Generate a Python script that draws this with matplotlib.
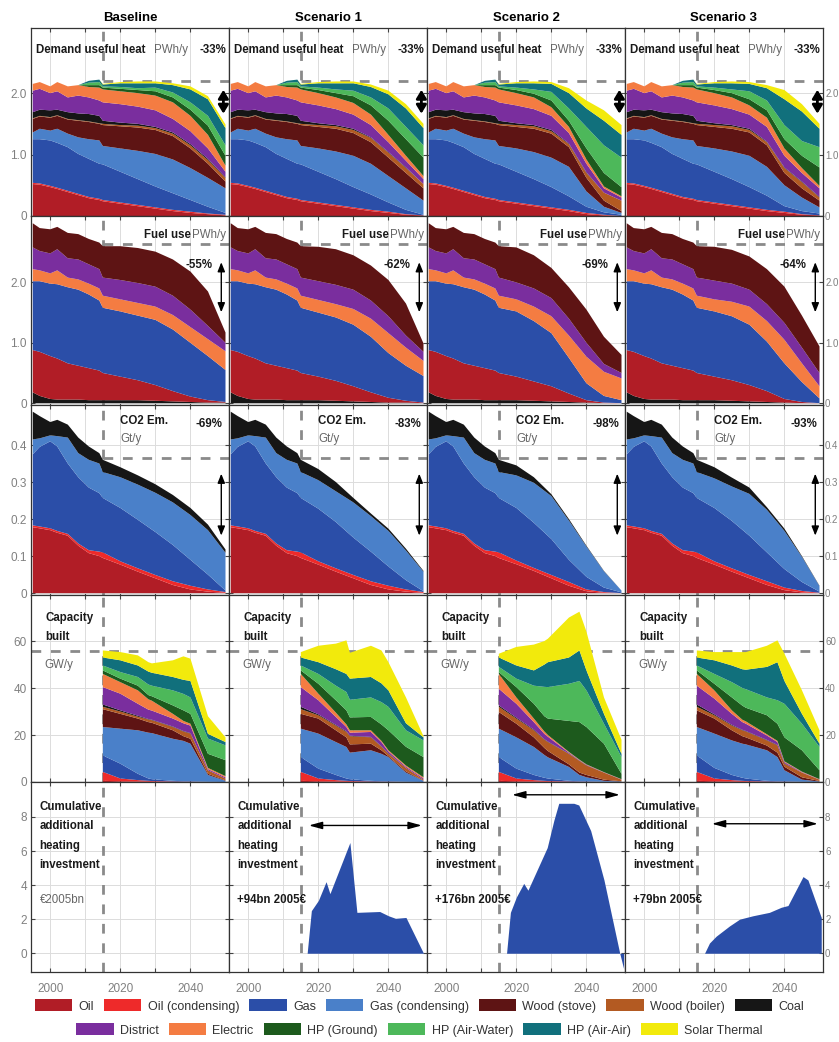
import numpy as np
import matplotlib
matplotlib.use('Agg')
from matplotlib import pyplot as plt
from matplotlib.patches import Patch

plt.rcParams['font.family'] = ['Liberation Sans', 'DejaVu Sans']

scenarios = ['Baseline', 'Scenario 1', 'Scenario 2', 'Scenario 3']

techs = ['Oil', 'Oil (condensing)', 'Gas', 'Gas (condensing)', 'Wood (stove)',
	'Wood (boiler)', 'Coal', 'District', 'Electric', 'HP (Ground)',
	'HP (Air-Water)', 'HP (Air-Air)', 'Solar Thermal']
colors = ['#b11d26', '#ee2a2a', '#2b4ea8', '#4a80c9', '#5e1414', '#b35a22',
	'#161616', '#7a2e9e', '#f47c42', '#1d5a1d', '#4db85a', '#11707c', '#f2ea0c']
col = dict(zip(techs, colors))

hist_years = [1995, 1997, 2000, 2002, 2005, 2008, 2011, 2014]
fut_years = [2015, 2020, 2025, 2030, 2035, 2040, 2045, 2050]
cap_years = [2015, 2020, 2025, 2028, 2029, 2035, 2038, 2040, 2045, 2050]

# demand useful heat, PWh/y -- cumulative tops, one row per tech (techs order)
demand_hist = [
	[0.52, 0.51, 0.47, 0.44, 0.39, 0.34, 0.29, 0.26],
	[0.54, 0.53, 0.49, 0.46, 0.41, 0.36, 0.31, 0.28],
	[1.25, 1.25, 1.23, 1.19, 1.12, 1.01, 0.93, 0.85],
	[1.36, 1.42, 1.39, 1.42, 1.34, 1.28, 1.25, 1.23],
	[1.58, 1.62, 1.60, 1.63, 1.57, 1.55, 1.53, 1.50],
	[1.59, 1.63, 1.61, 1.64, 1.58, 1.56, 1.54, 1.51],
	[1.69, 1.73, 1.72, 1.73, 1.69, 1.67, 1.66, 1.63],
	[2.04, 2.07, 2.00, 2.03, 1.93, 1.96, 1.93, 1.88],
	[2.15, 2.18, 2.11, 2.18, 2.11, 2.13, 2.10, 2.09],
	[2.15, 2.18, 2.11, 2.18, 2.11, 2.13, 2.13, 2.13],
	[2.15, 2.18, 2.11, 2.18, 2.11, 2.13, 2.17, 2.18],
	[2.15, 2.18, 2.11, 2.18, 2.11, 2.13, 2.20, 2.22],
	[2.15, 2.18, 2.11, 2.18, 2.11, 2.13, 2.20, 2.22],
]
demand_base = [
	[0.24, 0.20, 0.16, 0.12, 0.08, 0.05, 0.03, 0.01],
	[0.26, 0.22, 0.18, 0.14, 0.10, 0.07, 0.04, 0.02],
	[0.84, 0.72, 0.60, 0.48, 0.37, 0.26, 0.15, 0.05],
	[1.14, 1.10, 1.06, 1.01, 0.92, 0.78, 0.62, 0.45],
	[1.48, 1.46, 1.44, 1.40, 1.30, 1.10, 0.85, 0.56],
	[1.50, 1.48, 1.47, 1.43, 1.34, 1.15, 0.91, 0.62],
	[1.55, 1.52, 1.50, 1.45, 1.36, 1.17, 0.93, 0.63],
	[1.85, 1.82, 1.78, 1.72, 1.58, 1.38, 1.10, 0.72],
	[2.06, 2.03, 2.00, 1.96, 1.85, 1.63, 1.32, 0.82],
	[2.09, 2.07, 2.05, 2.03, 1.93, 1.73, 1.47, 0.98],
	[2.11, 2.10, 2.08, 2.09, 2.01, 1.85, 1.63, 1.15],
	[2.14, 2.16, 2.16, 2.16, 2.13, 2.06, 1.90, 1.43],
	[2.15, 2.18, 2.19, 2.19, 2.16, 2.11, 1.95, 1.49],
]
demand_s1 = [
	[0.24, 0.20, 0.16, 0.12, 0.08, 0.05, 0.02, 0.01],
	[0.26, 0.22, 0.18, 0.14, 0.10, 0.07, 0.03, 0.01],
	[0.84, 0.72, 0.60, 0.47, 0.35, 0.22, 0.10, 0.02],
	[1.14, 1.10, 1.05, 0.98, 0.85, 0.65, 0.45, 0.25],
	[1.48, 1.45, 1.42, 1.35, 1.20, 0.95, 0.70, 0.45],
	[1.50, 1.48, 1.46, 1.40, 1.27, 1.03, 0.78, 0.52],
	[1.55, 1.51, 1.48, 1.42, 1.28, 1.04, 0.79, 0.52],
	[1.85, 1.80, 1.74, 1.65, 1.48, 1.20, 0.90, 0.60],
	[2.06, 2.00, 1.93, 1.84, 1.65, 1.32, 0.98, 0.65],
	[2.09, 2.05, 2.00, 1.95, 1.80, 1.55, 1.25, 0.95],
	[2.11, 2.09, 2.06, 2.04, 1.93, 1.75, 1.45, 1.15],
	[2.14, 2.16, 2.16, 2.16, 2.10, 1.98, 1.75, 1.43],
	[2.15, 2.18, 2.19, 2.19, 2.14, 2.04, 1.82, 1.50],
]
demand_s2 = [
	[0.24, 0.20, 0.16, 0.12, 0.08, 0.03, 0.01, 0.00],
	[0.26, 0.22, 0.18, 0.14, 0.10, 0.05, 0.02, 0.00],
	[0.84, 0.72, 0.60, 0.47, 0.32, 0.15, 0.06, 0.02],
	[1.14, 1.10, 1.04, 0.95, 0.80, 0.40, 0.15, 0.05],
	[1.48, 1.45, 1.42, 1.34, 1.12, 0.62, 0.25, 0.08],
	[1.50, 1.48, 1.46, 1.38, 1.17, 0.70, 0.38, 0.25],
	[1.55, 1.51, 1.48, 1.40, 1.18, 0.71, 0.38, 0.25],
	[1.85, 1.80, 1.74, 1.63, 1.35, 0.85, 0.45, 0.30],
	[2.06, 2.00, 1.93, 1.77, 1.45, 0.92, 0.48, 0.32],
	[2.09, 2.05, 1.99, 1.88, 1.55, 1.10, 0.70, 0.47],
	[2.11, 2.09, 2.06, 2.02, 1.75, 1.45, 1.15, 0.95],
	[2.14, 2.16, 2.16, 2.15, 2.00, 1.75, 1.55, 1.32],
	[2.15, 2.18, 2.19, 2.18, 2.08, 1.88, 1.72, 1.48],
]
demand_s3 = [
	[0.24, 0.20, 0.16, 0.12, 0.08, 0.05, 0.02, 0.01],
	[0.26, 0.22, 0.18, 0.14, 0.10, 0.07, 0.03, 0.01],
	[0.84, 0.72, 0.60, 0.47, 0.33, 0.16, 0.08, 0.04],
	[1.14, 1.10, 1.05, 0.98, 0.80, 0.50, 0.30, 0.14],
	[1.48, 1.45, 1.42, 1.36, 1.15, 0.70, 0.45, 0.25],
	[1.50, 1.48, 1.46, 1.40, 1.20, 0.78, 0.55, 0.30],
	[1.55, 1.51, 1.48, 1.42, 1.21, 0.79, 0.56, 0.31],
	[1.85, 1.80, 1.74, 1.65, 1.45, 0.98, 0.70, 0.45],
	[2.06, 2.00, 1.93, 1.80, 1.60, 1.10, 0.78, 0.49],
	[2.09, 2.05, 2.00, 1.90, 1.72, 1.25, 0.98, 0.79],
	[2.11, 2.09, 2.06, 2.03, 1.88, 1.48, 1.22, 1.12],
	[2.14, 2.16, 2.16, 2.15, 2.08, 1.90, 1.70, 1.42],
	[2.15, 2.18, 2.19, 2.18, 2.13, 2.05, 1.82, 1.50],
]

# fuel use, PWh/y -- tops
fuel_techs = ['Coal', 'Oil', 'Gas', 'Electric', 'District', 'Wood (stove)']
fuel_hist = [
	[0.18, 0.12, 0.07, 0.06, 0.06, 0.06, 0.05, 0.05],
	[0.88, 0.85, 0.78, 0.74, 0.66, 0.62, 0.58, 0.54],
	[2.02, 2.02, 1.98, 1.97, 1.92, 1.88, 1.80, 1.70],
	[2.22, 2.20, 2.15, 2.20, 2.08, 2.05, 1.98, 1.90],
	[2.58, 2.52, 2.48, 2.55, 2.40, 2.38, 2.30, 2.22],
	[2.98, 2.90, 2.88, 2.92, 2.82, 2.80, 2.72, 2.66],
]
fuel_base = [
	[0.05, 0.05, 0.05, 0.04, 0.03, 0.02, 0.01, 0.01],
	[0.50, 0.44, 0.38, 0.30, 0.20, 0.11, 0.05, 0.02],
	[1.58, 1.52, 1.45, 1.38, 1.22, 1.00, 0.78, 0.55],
	[1.78, 1.72, 1.66, 1.60, 1.46, 1.26, 1.06, 0.86],
	[2.08, 2.04, 1.99, 1.93, 1.78, 1.55, 1.28, 1.00],
	[2.60, 2.60, 2.57, 2.51, 2.38, 2.18, 1.85, 1.17],
]
fuel_s1 = [
	[0.05, 0.05, 0.04, 0.03, 0.02, 0.01, 0.01, 0.00],
	[0.50, 0.44, 0.37, 0.28, 0.18, 0.09, 0.04, 0.01],
	[1.58, 1.50, 1.42, 1.30, 1.10, 0.83, 0.62, 0.45],
	[1.78, 1.71, 1.64, 1.56, 1.40, 1.16, 0.92, 0.70],
	[2.08, 2.02, 1.96, 1.88, 1.70, 1.44, 1.12, 0.85],
	[2.60, 2.59, 2.55, 2.45, 2.28, 2.04, 1.65, 0.99],
]
fuel_s2 = [
	[0.05, 0.05, 0.04, 0.03, 0.02, 0.01, 0.00, 0.00],
	[0.50, 0.44, 0.36, 0.28, 0.16, 0.05, 0.01, 0.00],
	[1.58, 1.52, 1.36, 1.16, 0.75, 0.33, 0.12, 0.05],
	[1.78, 1.72, 1.60, 1.44, 1.12, 0.77, 0.52, 0.41],
	[2.08, 2.00, 1.90, 1.74, 1.40, 1.00, 0.65, 0.50],
	[2.60, 2.58, 2.45, 2.24, 1.92, 1.55, 1.10, 0.80],
]
fuel_s3 = [
	[0.05, 0.05, 0.04, 0.03, 0.02, 0.01, 0.00, 0.00],
	[0.50, 0.44, 0.38, 0.30, 0.20, 0.07, 0.02, 0.00],
	[1.58, 1.52, 1.44, 1.30, 1.02, 0.66, 0.35, 0.08],
	[1.78, 1.72, 1.68, 1.60, 1.36, 1.05, 0.66, 0.28],
	[2.08, 2.03, 1.98, 1.88, 1.64, 1.33, 0.92, 0.50],
	[2.60, 2.59, 2.54, 2.43, 2.22, 1.93, 1.45, 0.94],
]

# CO2 emissions, Gt/y -- tops
co2_techs = ['Oil', 'Oil (condensing)', 'Gas', 'Gas (condensing)', 'Coal']
co2_hist = [
	[0.178, 0.175, 0.170, 0.163, 0.155, 0.128, 0.108, 0.100],
	[0.183, 0.180, 0.175, 0.168, 0.160, 0.134, 0.116, 0.112],
	[0.375, 0.395, 0.410, 0.396, 0.350, 0.313, 0.285, 0.270],
	[0.415, 0.418, 0.426, 0.424, 0.420, 0.378, 0.360, 0.350],
	[0.490, 0.478, 0.462, 0.468, 0.455, 0.420, 0.396, 0.378],
]
co2_base = [
	[0.095, 0.077, 0.058, 0.040, 0.022, 0.010, 0.004, 0.001],
	[0.110, 0.086, 0.067, 0.049, 0.032, 0.020, 0.010, 0.003],
	[0.257, 0.230, 0.198, 0.165, 0.130, 0.090, 0.050, 0.007],
	[0.327, 0.313, 0.293, 0.271, 0.245, 0.211, 0.170, 0.109],
	[0.360, 0.340, 0.318, 0.294, 0.265, 0.230, 0.185, 0.118],
]
co2_s1 = [
	[0.095, 0.077, 0.058, 0.040, 0.022, 0.010, 0.004, 0.001],
	[0.110, 0.086, 0.067, 0.049, 0.032, 0.020, 0.010, 0.003],
	[0.257, 0.228, 0.192, 0.150, 0.112, 0.072, 0.035, 0.005],
	[0.327, 0.305, 0.275, 0.245, 0.208, 0.168, 0.115, 0.058],
	[0.360, 0.335, 0.300, 0.257, 0.215, 0.174, 0.120, 0.060],
]
co2_s2 = [
	[0.095, 0.078, 0.060, 0.040, 0.020, 0.005, 0.001, 0.000],
	[0.110, 0.088, 0.068, 0.049, 0.030, 0.010, 0.003, 0.000],
	[0.257, 0.230, 0.190, 0.146, 0.090, 0.044, 0.015, 0.002],
	[0.327, 0.318, 0.298, 0.262, 0.196, 0.126, 0.059, 0.007],
	[0.360, 0.345, 0.313, 0.267, 0.200, 0.128, 0.060, 0.007],
]
co2_s3 = [
	[0.095, 0.077, 0.058, 0.040, 0.022, 0.008, 0.002, 0.000],
	[0.110, 0.086, 0.067, 0.049, 0.032, 0.015, 0.006, 0.001],
	[0.257, 0.230, 0.195, 0.155, 0.110, 0.065, 0.030, 0.004],
	[0.327, 0.310, 0.288, 0.268, 0.225, 0.168, 0.098, 0.019],
	[0.360, 0.340, 0.312, 0.285, 0.232, 0.174, 0.100, 0.020],
]

# capacity built, GW/y -- tops (techs order)
cap_base = [
	[0.5, 0.3, 0.2, 0.1, 0.1, 0.0, 0.0, 0.0, 0.0, 0.0],
	[4.3, 1.5, 0.8, 0.5, 0.4, 0.2, 0.1, 0.1, 0.0, 0.0],
	[11.3, 7.8, 3.5, 1.5, 1.2, 0.5, 0.3, 0.3, 0.1, 0.0],
	[23.4, 22.7, 22.0, 21.0, 20.8, 18.4, 17.5, 16.3, 3.0, 0.5],
	[31.0, 29.0, 27.0, 25.5, 25.2, 22.0, 19.5, 18.4, 3.5, 0.7],
	[32.0, 30.0, 27.8, 26.6, 26.3, 23.4, 21.5, 20.6, 5.0, 1.5],
	[33.0, 30.5, 28.2, 26.8, 26.5, 23.6, 21.7, 20.8, 5.0, 1.5],
	[40.4, 37.6, 33.3, 30.8, 30.4, 27.0, 25.0, 24.0, 5.5, 2.0],
	[46.0, 42.5, 39.0, 35.2, 34.6, 29.0, 26.0, 24.8, 6.0, 2.5],
	[47.5, 44.0, 41.0, 37.0, 36.5, 32.6, 30.5, 29.0, 12.0, 9.3],
	[49.6, 46.8, 44.7, 41.5, 41.0, 39.0, 37.5, 36.0, 18.5, 15.6],
	[53.0, 51.8, 49.6, 47.0, 46.5, 44.7, 43.5, 43.0, 20.5, 17.0],
	[56.0, 55.3, 53.9, 51.0, 50.5, 51.8, 53.5, 52.5, 28.0, 19.0],
]
cap_s1 = [
	[0.5, 0.3, 0.2, 0.1, 0.1, 0.0, 0.0, 0.0, 0.0, 0.0],
	[4.3, 1.5, 0.8, 0.5, 0.4, 0.2, 0.1, 0.1, 0.0, 0.0],
	[10.6, 5.7, 3.0, 1.5, 1.2, 0.5, 0.3, 0.3, 0.1, 0.0],
	[22.7, 20.6, 17.0, 14.9, 12.5, 13.5, 12.0, 10.6, 4.0, 0.5],
	[29.0, 27.0, 22.0, 19.0, 16.0, 16.3, 13.5, 11.0, 4.5, 0.6],
	[31.0, 28.4, 24.0, 21.3, 19.5, 19.0, 15.0, 12.0, 6.0, 1.0],
	[32.0, 28.8, 24.3, 21.6, 19.7, 19.2, 15.2, 12.2, 6.0, 1.0],
	[40.4, 34.8, 27.7, 23.4, 21.0, 21.3, 17.0, 13.0, 6.5, 1.5],
	[46.0, 37.6, 29.5, 24.5, 22.0, 22.0, 17.5, 13.5, 7.0, 2.0],
	[47.5, 41.8, 34.8, 30.5, 27.5, 27.7, 24.5, 22.0, 15.0, 10.6],
	[49.6, 46.0, 41.0, 38.3, 35.0, 36.0, 34.0, 32.0, 22.0, 17.7],
	[53.0, 51.0, 48.0, 46.0, 44.0, 44.7, 42.0, 39.0, 25.0, 19.0],
	[55.3, 58.0, 58.9, 60.3, 55.0, 58.0, 56.0, 51.0, 36.0, 19.5],
]
cap_s2 = [
	[0.5, 0.3, 0.2, 0.1, 0.1, 0.0, 0.0, 0.0, 0.0, 0.0],
	[4.3, 1.5, 0.8, 0.5, 0.4, 0.2, 0.1, 0.1, 0.0, 0.0],
	[10.6, 5.7, 3.0, 1.8, 1.5, 0.5, 0.3, 0.3, 0.1, 0.0],
	[22.7, 19.0, 14.9, 11.5, 10.5, 6.4, 3.0, 2.0, 0.5, 0.2],
	[29.8, 24.8, 19.0, 14.5, 13.2, 7.5, 4.0, 3.0, 1.0, 0.3],
	[32.0, 27.0, 22.0, 18.0, 17.0, 12.0, 9.0, 7.0, 4.0, 1.0],
	[32.6, 27.4, 22.3, 18.2, 17.2, 12.1, 9.1, 7.1, 4.0, 1.0],
	[39.7, 33.3, 25.5, 20.5, 19.3, 12.5, 9.3, 7.3, 4.1, 1.1],
	[46.0, 36.0, 27.0, 21.5, 20.0, 12.8, 9.5, 7.5, 4.2, 1.2],
	[46.8, 40.4, 33.3, 28.0, 27.0, 26.0, 25.5, 23.4, 16.3, 3.5],
	[49.0, 44.0, 41.0, 40.5, 40.4, 41.8, 43.0, 39.0, 24.8, 10.6],
	[53.0, 49.6, 47.5, 50.0, 51.0, 53.0, 56.0, 47.5, 29.0, 12.0],
	[54.6, 57.5, 58.5, 60.0, 61.0, 70.0, 72.5, 64.0, 36.0, 18.0],
]
cap_s3 = [
	[0.5, 0.3, 0.2, 0.1, 0.1, 0.0, 0.0, 0.0, 0.0, 0.0],
	[4.3, 1.5, 0.8, 0.5, 0.4, 0.2, 0.1, 0.1, 0.0, 0.0],
	[11.3, 6.0, 3.0, 1.8, 1.5, 0.5, 0.3, 0.3, 0.1, 0.0],
	[23.4, 20.6, 17.7, 16.3, 16.0, 13.5, 10.6, 5.0, 1.0, 0.2],
	[30.5, 27.0, 22.0, 19.5, 19.0, 15.5, 12.5, 6.5, 2.0, 0.4],
	[32.0, 28.4, 24.0, 22.0, 21.5, 17.7, 15.6, 7.8, 4.0, 1.0],
	[33.0, 28.8, 24.3, 22.2, 21.7, 17.9, 15.8, 8.0, 4.0, 1.0],
	[41.0, 35.5, 29.0, 25.5, 24.8, 19.8, 17.0, 8.5, 4.2, 1.1],
	[46.0, 39.0, 30.5, 26.5, 25.8, 20.3, 17.5, 8.8, 4.4, 1.2],
	[47.5, 41.8, 36.0, 32.5, 31.6, 28.4, 24.8, 19.0, 13.5, 5.0],
	[49.6, 46.0, 42.5, 40.0, 39.5, 36.0, 34.8, 33.3, 24.8, 14.9],
	[53.0, 51.8, 49.6, 48.0, 47.8, 49.0, 51.0, 43.0, 29.0, 16.3],
	[56.0, 55.3, 55.3, 55.3, 55.3, 58.0, 60.3, 54.6, 39.0, 22.0],
]

# cumulative additional investment, bn EUR2005
inv_years_s1 = [2016.8, 2018, 2020, 2022.2, 2023.3, 2029, 2031, 2037.5, 2040, 2042, 2045, 2050]
inv_s1 = [0, 2.5, 3.1, 4.2, 3.5, 6.5, 2.4, 2.45, 2.2, 2.05, 2.1, 0.0]
inv_years_s2 = [2017.2, 2018.3, 2020, 2022.1, 2023.3, 2028.8, 2030.7, 2032.1, 2036.4, 2037.8, 2041.2, 2045, 2049.5, 2050.6]
inv_s2 = [0, 2.4, 3.3, 4.1, 3.7, 6.2, 7.8, 8.8, 8.8, 8.7, 7.2, 4.3, 0, -0.9]
inv_years_s3 = [2017.2, 2018.6, 2020.5, 2024.3, 2027.2, 2031, 2035.7, 2039.1, 2041, 2045.3, 2046.7, 2050.5]
inv_s3 = [0, 0.6, 1.0, 1.6, 2.0, 2.2, 2.4, 2.7, 2.8, 4.5, 4.3, 2.1]

demand_fut = [demand_base, demand_s1, demand_s2, demand_s3]
fuel_fut = [fuel_base, fuel_s1, fuel_s2, fuel_s3]
co2_fut = [co2_base, co2_s1, co2_s2, co2_s3]
caps = [cap_base, cap_s1, cap_s2, cap_s3]
invs = [None, (inv_years_s1, inv_s1), (inv_years_s2, inv_s2), (inv_years_s3, inv_s3)]

fuel_pct = ['-55%', '-62%', '-69%', '-64%']
co2_pct = ['-69%', '-83%', '-98%', '-93%']
inv_note = ['\u20ac2005bn', '+94bn 2005\u20ac', '+176bn 2005\u20ac', '+79bn 2005\u20ac']

row_ylim = [(0, 3.06), (-0.03, 3.1), (-0.005, 0.508), (0, 79.6), (-1.1, 10.05)]
row_ticks = [[0, 1, 2], [0, 1, 2], [0, 0.1, 0.2, 0.3, 0.4], [0, 20, 40, 60], [0, 2, 4, 6, 8]]
row_labels = [['0', '1.0', '2.0'], ['0', '1.0', '2.0'], ['0', '0.1', '0.2', '0.3', '0.4'],
	['0', '20', '40', '60'], ['0', '2', '4', '6', '8']]

grey = '#8a8a8a'
dash = dict(color=grey, lw=2.0, ls=(0, (3.5, 3.5)), zorder=1)


def stack(ax, years, tops, cols):
	tops = np.array(tops, dtype=float)
	layers = np.diff(np.vstack([np.zeros(tops.shape[1]), tops]), axis=0).clip(min=0)
	ax.stackplot(years, layers, colors=cols, lw=0, zorder=2)


def joined(hist, fut):
	return [h + f for h, f in zip(hist, fut)]


W, H = 839, 1042
fig = plt.figure(figsize=(W / 100, H / 100), dpi=100)

col_left = [31, 229, 427, 625]
col_w = 198
row_top = [28, 216, 405, 595, 782]
row_h = [188, 189, 190, 187, 190]

fs = 8.3
bold = dict(fontweight='bold', fontsize=fs, color='#1a1a1a', zorder=5)
unit = dict(fontsize=fs, color='#666666', zorder=5)
arrow_v = dict(arrowstyle='<|-|>,head_width=0.22,head_length=0.55', color='black', lw=1.0)

for c in range(4):
	for r in range(5):
		ax = fig.add_axes([col_left[c] / W, 1 - (row_top[r] + row_h[r]) / H,
			col_w / W, row_h[r] / H])
		ax.set_xlim(1994.5, 2051)
		ax.set_ylim(*row_ylim[r])
		ax.set_xticks([2000, 2010, 2020, 2030, 2040])
		ax.set_yticks(row_ticks[r])
		ax.grid(True, color='#dcdcdc', lw=0.7, zorder=0)
		ax.set_axisbelow(True)
		ax.tick_params(direction='in', length=3, top=True, right=True, pad=3,
			colors='#444444', labelcolor='#808080', labelsize=8.5)
		for s in ax.spines.values():
			s.set_color('#333333')
			s.set_linewidth(0.9)
		if c == 0:
			ax.set_yticklabels(row_labels[r])
		elif c == 3:
			ax.yaxis.tick_right()
			ax.tick_params(axis='y', left=True, direction='in', pad=1.5, labelsize=7)
			ax.set_yticklabels(row_labels[r])
		else:
			ax.set_yticklabels([])
		if r == 4:
			ax.set_xticklabels(['2000', '', '2020', '', '2040'])
			ax.tick_params(axis='x', pad=8)
		else:
			ax.set_xticklabels([])

		ax.axvline(2015, **dash)

		if r == 0:
			stack(ax, hist_years + fut_years, joined(demand_hist, demand_fut[c]), colors)
			ax.plot([2015, 2051], [2.2, 2.2], **dash)
			ax.text(1996, 2.7, 'Demand useful heat', ha='left', va='center', **bold)
			ax.text(2034.5, 2.7, 'PWh/y', ha='center', va='center', **unit)
			ax.text(2046.3, 2.7, '-33%', ha='center', va='center', **bold)
			ax.annotate('', xy=(2049.4, 1.62), xytext=(2049.4, 2.1),
				arrowprops=dict(arrowstyle='<|-|>,head_width=0.3,head_length=0.5',
					color='black', lw=2.0), zorder=6)
			ax.set_title(scenarios[c], fontsize=9.5, fontweight='bold', pad=5)
		elif r == 1:
			stack(ax, hist_years + fut_years, joined(fuel_hist, fuel_fut[c]),
				[col[t] for t in fuel_techs])
			ax.plot([2015, 2051], [2.63, 2.63], **dash)
			ax.text(2033.3, 2.79, 'Fuel use', ha='center', va='center', **bold)
			ax.text(2045.4, 2.79, 'PWh/y', ha='center', va='center', **unit)
			ax.text(2042.5, 2.29, fuel_pct[c], ha='center', va='center', **bold)
			ax.annotate('', xy=(2048.8, 1.46), xytext=(2048.8, 2.38),
				arrowprops=arrow_v, zorder=6)
		elif r == 2:
			stack(ax, hist_years + fut_years, joined(co2_hist, co2_fut[c]),
				[col[t] for t in co2_techs])
			ax.plot([2015, 2051], [0.365, 0.365], **dash)
			ax.text(2020, 0.466, 'CO2 Em.', ha='left', va='center', **bold)
			ax.text(2020, 0.415, 'Gt/y', ha='left', va='center', **unit)
			ax.text(2045.4, 0.456, co2_pct[c], ha='center', va='center', **bold)
			ax.annotate('', xy=(2048.8, 0.148), xytext=(2048.8, 0.33),
				arrowprops=arrow_v, zorder=6)
		elif r == 3:
			stack(ax, cap_years, caps[c], colors)
			ax.axhline(55.8, **dash)
			ax.text(1998.5, 70, 'Capacity', ha='left', va='center', **bold)
			ax.text(1998.5, 61.7, 'built', ha='left', va='center', **bold)
			ax.text(1998.3, 49.6, 'GW/y', ha='left', va='center', **unit)
		else:
			if invs[c] is not None:
				yrs, vals = invs[c]
				ax.fill_between(yrs, 0, vals, color='#2b4ea8', lw=0, zorder=2)
			ax.text(1996.9, 8.6, 'Cumulative', ha='left', va='center', **bold)
			ax.text(1996.9, 7.45, 'additional', ha='left', va='center', **bold)
			ax.text(1996.9, 6.3, 'heating', ha='left', va='center', **bold)
			ax.text(1996.9, 5.2, 'investment', ha='left', va='center', **bold)
			if c == 0:
				ax.text(1996.9, 3.1, inv_note[c], ha='left', va='center', **unit)
			else:
				ax.text(1996.9, 3.1, inv_note[c], ha='left', va='center', **bold)
			arrows = [None, (2016.5, 2050.3, 7.5), (2018.0, 2050.3, 9.3), (2018.5, 2050.3, 7.6)]
			if arrows[c] is not None:
				x0, x1, yy = arrows[c]
				ax.annotate('', xy=(x1, yy), xytext=(x0, yy),
					arrowprops=dict(arrowstyle='<|-|>,head_width=0.22,head_length=0.8',
						color='black', lw=1.0), zorder=6)

handles = [Patch(facecolor=col[t], edgecolor='none', label=t) for t in techs]
leg_kw = dict(frameon=False, fontsize=9, handlelength=3.0, handleheight=1.1,
	handletextpad=0.5, columnspacing=0.8, labelcolor='#333333')
fig.legend(handles=handles[:7], ncol=7, loc='center',
	bbox_to_anchor=(0.5, 1 - 1006 / H), **leg_kw)
fig.legend(handles=handles[7:], ncol=6, loc='center',
	bbox_to_anchor=(0.5, 1 - 1030 / H), **leg_kw)

fig.savefig('out.png', dpi=100)
